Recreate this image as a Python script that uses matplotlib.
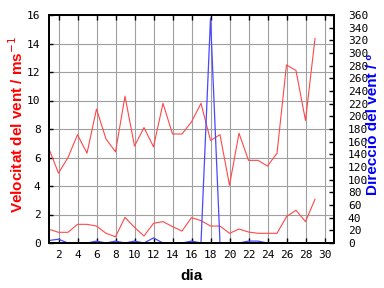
import matplotlib
matplotlib.use("Agg")
import matplotlib.pyplot as plt

# daily wind data
days = list(range(1, 30))
vel_max = [6.6, 4.9, 6.0, 7.6, 6.3, 9.4, 7.3, 6.4, 10.3, 6.8,
           8.1, 6.75, 9.8, 7.65, 7.65, 8.5, 9.8, 7.2, 7.6, 4.05,
           7.7, 5.8, 5.8, 5.4, 6.3, 12.5, 12.1, 8.6, 14.35]
vel_mitja = [0.96, 0.75, 0.75, 1.31, 1.31, 1.19, 0.68, 0.44, 1.8, 1.1,
             0.49, 1.38, 1.5, 1.15, 0.84, 1.78, 1.57, 1.19, 1.19, 0.68,
             0.98, 0.77, 0.68, 0.68, 0.68, 1.85, 2.3, 1.5, 3.07]
direccio = [4, 6, 0, 0, 0, 3, 0, 3, 0, 3,
            0, 8, 0, 0, 0, 3, 0, 355, 0, 0,
            0, 3, 3, 0, 0, 0, 0, 0, 0]

red = "#ff4848"
blue = "#4848ff"
mono = "DejaVu Sans Mono"

fig = plt.figure(figsize=(3.84, 2.88), dpi=100)
ax = fig.add_axes([49 / 384, 1 - 243 / 288, 285 / 384, 228 / 288])
ax2 = ax.twinx()

ax.plot(days, vel_max, color=red, lw=0.8)
ax.plot(days, vel_mitja, color=red, lw=0.8)
ax2.plot(days, direccio, color=blue, lw=0.9)

ax.set_xlim(1, 31)
ax.set_ylim(0, 16)
ax2.set_ylim(0, 360)
ax.set_xticks(range(2, 31, 2))
ax.set_yticks(range(0, 17, 2))
ax2.set_yticks(range(0, 361, 20))

ax.grid(True, color="#a0a0a0", lw=0.8)
ax.set_axisbelow(True)
for a in (ax, ax2):
    for s in a.spines.values():
        s.set_linewidth(1.4)

ax.tick_params(axis="x", direction="in", top=True, length=3.5, width=1,
               pad=5, labelsize=8)
ax.tick_params(axis="y", direction="in", length=3, width=1, pad=6, labelsize=8)
ax2.tick_params(axis="y", direction="in", length=3.5, width=1, pad=10,
                labelsize=8)
for lab in ax.get_xticklabels() + ax.get_yticklabels() + ax2.get_yticklabels():
    lab.set_family(mono)

ax.set_xlabel("dia", family="Liberation Sans", fontsize=11, fontweight="bold")
ax.xaxis.set_label_coords(0.5, -0.115)
ax.set_ylabel("Velocitat del vent / ms$^{-1}$", color="red",
              family="Liberation Sans", fontsize=11, fontweight="bold",
              va="center")
ax.yaxis.set_label_coords(-32 / 285, 0.52)
ax2.set_ylabel("Direcció del vent / º", color="blue",
               family="Liberation Sans", fontsize=11, fontweight="bold",
               va="center")
ax2.yaxis.set_label_coords(1 + 39 / 285, 0.52)

fig.savefig("out.png", dpi=100)
